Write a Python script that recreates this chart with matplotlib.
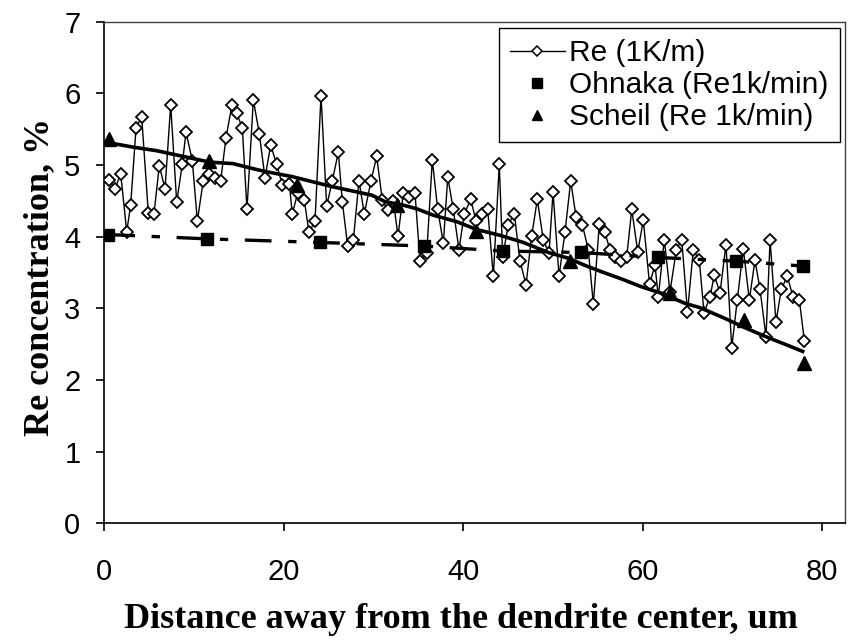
import matplotlib
matplotlib.use("Agg")
import matplotlib.pyplot as plt
from matplotlib.lines import Line2D

# Re (1K/m) measured profile
re_x = [0.59, 1.23, 1.86, 2.53, 2.97, 3.57, 4.20, 4.94, 5.57, 6.16,
        6.80, 7.43, 8.10, 8.72, 9.14, 9.84, 10.40, 11.06, 11.73, 12.37,
        13.00, 13.59, 14.26, 14.79, 15.41, 15.93, 16.64, 17.30, 17.94, 18.57,
        19.24, 19.87, 20.65, 20.98, 21.58, 22.32, 22.84, 23.51, 24.18, 24.81,
        25.44, 26.11, 26.55, 27.15, 27.78, 28.41, 29.00, 29.75, 30.38, 31.01,
        31.61, 32.23, 32.76, 33.35, 33.98, 34.65, 35.21, 35.96, 36.58, 37.18,
        37.81, 38.30, 38.92, 39.55, 40.14, 40.86, 41.45, 42.08, 42.75, 43.38,
        44.04, 44.42, 45.05, 45.72, 46.35, 47.02, 47.65, 48.28, 48.95, 49.58,
        50.03, 50.70, 51.36, 52.00, 52.59, 53.29, 53.96, 54.52, 55.19, 55.82,
        56.38, 56.94, 57.60, 58.24, 58.80, 59.47, 60.09, 60.78, 61.39, 61.76,
        62.43, 63.06, 63.77, 64.37, 65.01, 65.66, 66.33, 66.85, 67.52, 67.99,
        68.64, 69.30, 69.94, 70.56, 71.23, 71.90, 72.53, 73.09, 73.76, 74.21,
        74.87, 75.47, 76.13, 76.77, 77.47, 78.03]
re_y = [4.79, 4.67, 4.88, 4.07, 4.44, 5.52, 5.67, 4.33, 4.32, 4.99,
        4.67, 5.84, 4.48, 5.01, 5.46, 5.06, 4.22, 4.78, 4.88, 4.82,
        4.78, 5.38, 5.84, 5.72, 5.52, 4.38, 5.91, 5.44, 4.82, 5.28,
        5.01, 4.72, 4.73, 4.32, 4.61, 4.51, 4.06, 4.22, 5.97, 4.43,
        4.78, 5.18, 4.49, 3.87, 3.95, 4.78, 4.32, 4.78, 5.12, 4.51,
        4.37, 4.50, 4.01, 4.61, 4.55, 4.61, 3.66, 3.77, 5.07, 4.38,
        3.91, 4.83, 4.38, 3.82, 4.32, 4.52, 4.22, 4.32, 4.38, 3.45,
        5.01, 3.72, 4.17, 4.32, 3.66, 3.33, 4.01, 4.52, 3.95, 3.77,
        4.62, 3.45, 4.06, 4.78, 4.28, 4.17, 3.82, 3.06, 4.18, 4.06,
        3.81, 3.72, 3.66, 3.72, 4.38, 3.79, 4.23, 3.34, 3.60, 3.16,
        3.96, 3.23, 3.82, 3.96, 2.95, 3.82, 3.67, 2.94, 3.16, 3.46,
        3.22, 3.89, 2.45, 3.12, 3.83, 3.12, 3.67, 3.27, 2.60, 3.95,
        2.81, 3.27, 3.45, 3.16, 3.12, 2.55]

# Ohnaka model points
ohnaka_x = [0.48, 11.51, 24.07, 35.65, 44.42, 53.15, 61.76, 70.42, 77.92]
ohnaka_y = [4.03, 3.97, 3.92, 3.87, 3.80, 3.78, 3.71, 3.66, 3.59]

# Scheil model points and curve
scheil_x = [0.59, 11.73, 21.47, 32.65, 41.45, 51.92, 63.06, 71.31, 78.03]
scheil_y = [5.36, 5.06, 4.72, 4.44, 4.08, 3.66, 3.22, 2.84, 2.24]
scheil_curve_x = [0.59, 3.23, 5.87, 8.84, 11.81, 14.37, 16.27, 17.94, 20.91, 23.14,
                  25.37, 27.97, 29.83, 31.31, 33.35, 34.84, 36.69, 39.30, 41.53, 44.12,
                  46.72, 49.50, 51.73, 53.59, 55.46, 57.68, 59.91, 62.14, 64.74, 66.41,
                  69.00, 71.61, 73.84, 76.07, 78.03]
scheil_curve_y = [5.31, 5.25, 5.20, 5.12, 5.04, 5.02, 4.96, 4.91, 4.84, 4.77,
                  4.70, 4.63, 4.58, 4.49, 4.44, 4.39, 4.30, 4.21, 4.10, 4.02,
                  3.92, 3.78, 3.70, 3.60, 3.51, 3.41, 3.30, 3.21, 3.07, 3.01,
                  2.87, 2.72, 2.60, 2.49, 2.39]

x_ticks = [0, 20, 40, 60, 80]
y_ticks = [0, 1, 2, 3, 4, 5, 6, 7]

W, H = 865, 643
fig = plt.figure(figsize=(W / 100, H / 100), dpi=100)
ax = fig.add_axes([104 / W, 1 - 523.4 / H, (845 - 104) / W, (523.4 - 21.7) / H])

ax.plot(re_x, re_y, color="black", lw=1.0, marker="D", ms=5.8,
        mfc="white", mec="black", mew=1.3, zorder=3)
ax.plot(scheil_curve_x, scheil_curve_y, color="black", lw=2.6, zorder=4,
        solid_capstyle="butt")
ax.plot(ohnaka_x, ohnaka_y, color="black", lw=2.4, dashes=(8, 5, 2.5, 5), zorder=4)
ax.plot(ohnaka_x, ohnaka_y, ls="none", marker="s", ms=8.5, color="black", zorder=5)
ax.plot(scheil_x, scheil_y, ls="none", marker="^", ms=9.5, color="black", zorder=5)

ax.set_xlim(0, 82.56)
ax.set_ylim(0, 7)
ax.set_xticks(x_ticks)
ax.set_yticks(y_ticks)
ax.tick_params(direction="out", length=6, width=1.2, labelsize=21)
ax.tick_params(axis="x", pad=19)
ax.tick_params(axis="y", pad=11)
for lab in ax.get_xticklabels() + ax.get_yticklabels():
    lab.set_fontfamily("Liberation Sans")
for s in ax.spines.values():
    s.set_linewidth(1.2)
ax.spines["top"].set_color("#404040")
ax.spines["right"].set_color("#404040")
ax.spines["top"].set_linewidth(1)
ax.spines["right"].set_linewidth(1)

fig.text(0.533, 1 - 620 / H, "Distance away from the dendrite center, um",
         fontsize=26, fontweight="bold", fontfamily="Liberation Serif",
         ha="center", va="center")
fig.text(40 / W, 1 - 277 / H, "Re concentration, %", fontsize=26,
         fontweight="bold", fontfamily="Liberation Serif", rotation=90,
         ha="center", va="center")

handles = [
    Line2D([], [], color="black", lw=1.0, marker="D", ms=5, mfc="white",
           mec="black", mew=1.1),
    Line2D([], [], ls="none", marker="s", ms=6.5, color="black"),
    Line2D([], [], ls="none", marker="^", ms=7.5, color="black"),
]
labels = ["Re (1K/m)", "Ohnaka (Re1k/min)", "Scheil (Re 1k/min)"]
leg = ax.legend(handles, labels, loc="upper right", bbox_to_anchor=(0.9933, 0.9874),
                borderaxespad=0, prop={"family": "Liberation Sans", "size": 21.5},
                handlelength=1.84, handletextpad=0.15, labelspacing=0.13,
                borderpad=0.38, fancybox=False, framealpha=1, edgecolor="black")
leg.get_frame().set_linewidth(1.0)

fig.savefig("out.png", dpi=100)
